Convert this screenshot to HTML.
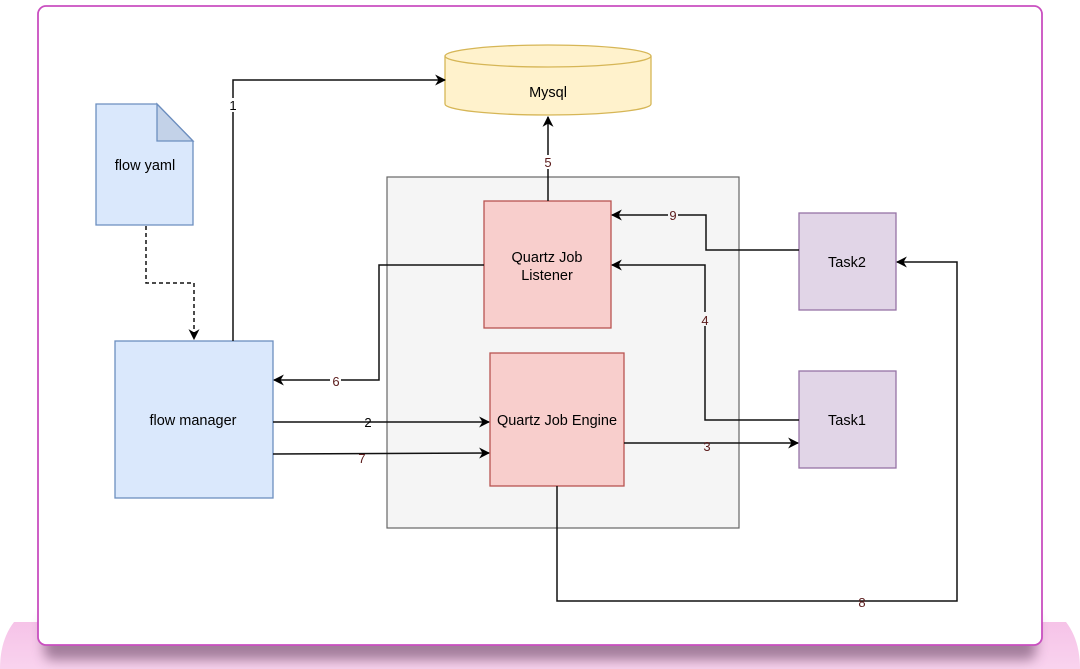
<!DOCTYPE html>
<html><head><meta charset="utf-8"><style>
html,body{margin:0;padding:0;width:1080px;height:669px;overflow:hidden;background:#fff;}
svg{display:block;}
text{font-family:"Liberation Sans",sans-serif;}
</style></head><body>
<svg width="1080" height="669" viewBox="0 0 1080 669" xmlns="http://www.w3.org/2000/svg">
<defs>
<linearGradient id="sh" x1="0" y1="0" x2="0" y2="1">
<stop offset="0" stop-color="#f6c3e8"/><stop offset="1" stop-color="#f9d3ee"/></linearGradient>
<filter id="bl" x="-5%" y="-50%" width="110%" height="200%"><feGaussianBlur stdDeviation="6"/></filter>
<marker id="a" viewBox="0 0 10 10" refX="9" refY="5" markerWidth="11" markerHeight="11" markerUnits="userSpaceOnUse" orient="auto">
<path d="M0,0 L10,5 L0,10 L3,5 z" fill="#000"/></marker>
</defs>
<path d="M14,622 L1066,622 Q1080,640 1080,669 L0,669 Q0,640 14,622 z" fill="url(#sh)"/>
<rect x="44" y="615" width="992" height="45" rx="8" fill="#6a4a66" opacity="0.6" filter="url(#bl)"/>
<rect x="38" y="6" width="1004" height="639" rx="8" fill="#fff" stroke="#c94fc0" stroke-width="1.8"/>

<rect x="387" y="177" width="352" height="351" fill="#f5f5f5" stroke="#666" stroke-width="1.2"/>

<path d="M96,104 L157,104 L193,141 L193,225 L96,225 z" fill="#dae8fc" stroke="#6c8ebf" stroke-width="1.3"/>
<path d="M157,104 L157,141 L193,141 z" fill="#c3d2e8" stroke="#6c8ebf" stroke-width="1.3"/>
<text x="145" y="170" font-size="14.5" text-anchor="middle">flow yaml</text>

<path d="M445,56 L445,104 A103,11 0 0 0 651,104 L651,56" fill="#fff2cc" stroke="#d6b656" stroke-width="1.3"/>
<ellipse cx="548" cy="56" rx="103" ry="11" fill="#fff2cc" stroke="#d6b656" stroke-width="1.3"/>
<text x="548" y="97" font-size="14.5" text-anchor="middle">Mysql</text>

<rect x="484" y="201" width="127" height="127" fill="#f8cecc" stroke="#b85450" stroke-width="1.3"/>
<text x="547" y="262" font-size="14.5" text-anchor="middle">Quartz Job</text>
<text x="547" y="280" font-size="14.5" text-anchor="middle">Listener</text>

<rect x="490" y="353" width="134" height="133" fill="#f8cecc" stroke="#b85450" stroke-width="1.3"/>
<text x="557" y="425" font-size="14.5" text-anchor="middle">Quartz Job Engine</text>

<rect x="115" y="341" width="158" height="157" fill="#dae8fc" stroke="#6c8ebf" stroke-width="1.3"/>
<text x="193" y="425" font-size="14.5" text-anchor="middle">flow manager</text>

<rect x="799" y="213" width="97" height="97" fill="#e1d5e7" stroke="#9673a6" stroke-width="1.3"/>
<text x="847" y="267" font-size="14.5" text-anchor="middle">Task2</text>
<rect x="799" y="371" width="97" height="97" fill="#e1d5e7" stroke="#9673a6" stroke-width="1.3"/>
<text x="847" y="425" font-size="14.5" text-anchor="middle">Task1</text>

<g fill="none" stroke="#111" stroke-width="1.5">
<path d="M146,226 L146,283 L194,283 L194,339" stroke-dasharray="4,3" marker-end="url(#a)"/>
<path d="M233,341 L233,80 L445,80" marker-end="url(#a)"/>
<path d="M548,201 L548,117" marker-end="url(#a)"/>
<path d="M799,250 L706,250 L706,215 L612,215" marker-end="url(#a)"/>
<path d="M799,420 L705,420 L705,265 L612,265" marker-end="url(#a)"/>
<path d="M484,265 L379,265 L379,380 L274,380" marker-end="url(#a)"/>
<path d="M273,422 L489,422" marker-end="url(#a)"/>
<path d="M273,454 L489,453" marker-end="url(#a)"/>
<path d="M624,443 L798,443" marker-end="url(#a)"/>
<path d="M557,486 L557,601 L957,601 L957,262 L897,262" marker-end="url(#a)"/>
</g>
<g font-size="13" text-anchor="middle">
<rect x="228" y="98" width="10" height="14" fill="#fff"/><text x="233" y="110">1</text>
<rect x="542" y="155" width="11" height="14" fill="#fff"/><text x="548" y="167" fill="#5a1a1a">5</text>
<rect x="668" y="208" width="10" height="14" fill="#f5f5f5"/><text x="673" y="220" fill="#5a1a1a">9</text>
<rect x="700" y="312" width="10" height="14" fill="#f5f5f5"/><text x="705" y="325" fill="#5a1a1a">4</text>
<rect x="330" y="373" width="11" height="14" fill="#fff"/><text x="336" y="386" fill="#5a1a1a">6</text>
<text x="368" y="427">2</text>
<text x="362" y="463" fill="#5a1a1a">7</text>
<text x="707" y="451" fill="#5a1a1a">3</text>
<text x="862" y="607" fill="#5a1a1a">8</text>
</g>
</svg>
</body></html>
